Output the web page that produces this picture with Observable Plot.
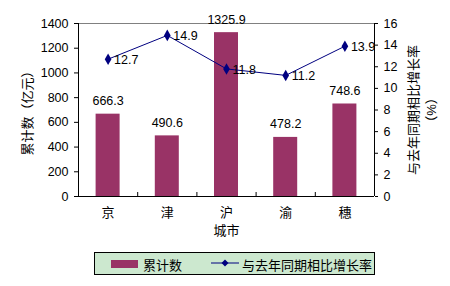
<!DOCTYPE html>
<html>
<head>
<meta charset="utf-8">
<script src="https://cdn.jsdelivr.net/npm/d3@7"></script>
<script src="https://cdn.jsdelivr.net/npm/@observablehq/plot@0.6"></script>
<style>
  html, body { margin: 0; padding: 0; background: #fff; }
  #wrap { position: relative; width: 450px; height: 286px; font-family: "Liberation Sans", "Noto Sans CJK SC", sans-serif; }
  #legend { position: absolute; left: 94px; top: 252px; width: 279px; height: 21px; border: 1px solid #000; background: #cce8cf; font-size: 13px; }
  #legend .sw { position: absolute; left: 16px; top: 7px; width: 27px; height: 8px; background: #993366; }
  #legend .t1 { position: absolute; left: 48px; top: 2px; }
  #legend svg { position: absolute; left: 116px; top: 5px; }
  #legend .t2 { position: absolute; left: 147px; top: 2px; }
</style>
</head>
<body>
<div id="wrap"></div>
<script>
const cities = ["京", "津", "沪", "渝", "穗"];
const totals = [666.3, 490.6, 1325.9, 478.2, 748.6];
const rates = [12.7, 14.9, 11.8, 11.2, 13.9];
const leftTicks = [0, 200, 400, 600, 800, 1000, 1200, 1400];
const rightTicks = [0, 2, 4, 6, 8, 10, 12, 14, 16];
const leftTitle = "累计数（亿元）";
const rightTitle = "与去年同期相比增长率\n（%）";
const xTitle = "城市";
const seriesNames = ["累计数", "与去年同期相比增长率"];

const k = 1400 / 16;
const data = cities.map((c, i) => ({city: c, i, total: totals[i], rate: rates[i]}));
const font = "Liberation Sans, Noto Sans CJK SC, sans-serif";

const chart = Plot.plot({
  width: 450,
  height: 250,
  marginLeft: 78,
  marginRight: 76,
  marginTop: 23,
  marginBottom: 54,
  style: {fontFamily: font, fontSize: "12.5px", color: "#000", background: "transparent", overflow: "visible"},
  x: {type: "linear", domain: [0, cities.length], axis: null},
  y: {domain: [0, 1400], axis: null},
  marks: [
    Plot.rectY(data, {x1: d => d.i, x2: d => d.i + 1, y: "total", fill: "#993366", insetLeft: 17.6, insetRight: 17.6}),
    Plot.ruleY([1400], {stroke: "#808080"}),
    Plot.ruleY([0], {stroke: "#000"}),
    Plot.ruleX([0, cities.length], {stroke: "#000"}),
    Plot.ruleX(d3.range(1, cities.length), {y1: 0, y2: 0, insetTop: -4, stroke: "#000"}),
    Plot.axisY({anchor: "left", ticks: leftTicks, tickFormat: d => String(d), tickSize: 4, tickPadding: 6, label: null, fontSize: 12.5}),
    Plot.axisY({anchor: "right", ticks: rightTicks.map(r => r * k), tickFormat: d => String(Math.round(d / k)), tickSize: 3, tickPadding: 6, label: null, fontSize: 12.5}),
    Plot.text(data, {x: d => d.i + 0.5, text: "city", frameAnchor: "bottom", dy: 20, fontSize: 13}),
    Plot.text([xTitle], {frameAnchor: "bottom", dy: 38, fontSize: 13}),
    Plot.text([leftTitle], {frameAnchor: "left", textAnchor: "middle", dx: -51, rotate: -90, fontSize: 13}),
    Plot.text([rightTitle], {frameAnchor: "right", textAnchor: "middle", dx: 47, rotate: -90, fontSize: 13, lineHeight: 1.38}),
    Plot.line(data, {x: d => d.i + 0.5, y: d => d.rate * k, stroke: "#000080", strokeWidth: 1}),
    Plot.dot(data, {x: d => d.i + 0.5, y: d => d.rate * k, symbol: "diamond", fill: "#000080", r: 3.5}),
    Plot.text(data, {x: d => d.i + 0.5, y: "total", text: d => d.total.toFixed(1), dy: -13, fontSize: 12.5}),
    Plot.text(data, {x: d => d.i + 0.5, y: d => d.rate * k, text: d => d.rate.toFixed(1), textAnchor: "start", dx: 6, dy: 1, fontSize: 12.5})
  ]
});
const wrap = document.getElementById("wrap");
wrap.appendChild(chart);
const lg = document.createElement("div");
lg.id = "legend";
lg.innerHTML = `<div class="sw"></div><span class="t1">${seriesNames[0]}</span>
<svg width="28" height="10"><line x1="0" y1="5" x2="28" y2="5" stroke="#000080"/><path d="M14,1.5L17.5,5L14,8.5L10.5,5Z" fill="#000080"/></svg>
<span class="t2">${seriesNames[1]}</span>`;
wrap.appendChild(lg);
</script>
</body>
</html>
